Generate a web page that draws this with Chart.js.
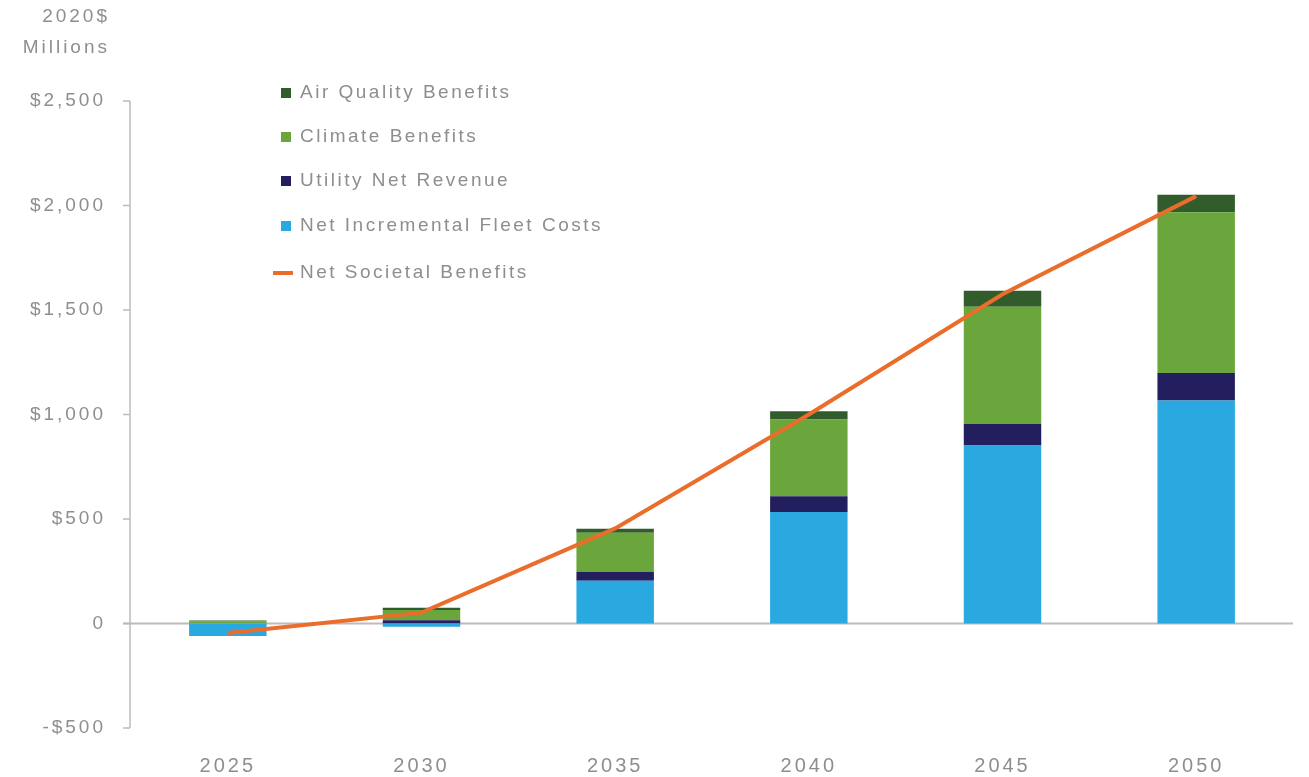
<!DOCTYPE html>
<html>
<head>
<meta charset="utf-8">
<script src="https://cdn.jsdelivr.net/npm/chart.js@4"></script>
<style>
  html, body { margin: 0; padding: 0; background: #ffffff; }
  #wrap { position: relative; width: 1309px; height: 777px; }
</style>
</head>
<body>
<div id="wrap"><canvas id="benefitsChart" width="1309" height="777"></canvas></div>
<script>
const years = ['2025', '2030', '2035', '2040', '2045', '2050'];
const fleetCosts = [-60, -15, 205, 534, 852, 1067];
const utilityRevenue = [0, 15, 43, 75, 102, 131];
const climateBenefits = [10, 50, 186, 367, 562, 770];
const airQualityBenefits = [4, 10, 19, 40, 76, 83];
const netSocietal = [-45, 52, 455, 1000, 1575, 2045];
const yTicks = [-500, 0, 500, 1000, 1500, 2000, 2500];

const textGrey = '#8e8e8e';
const axisGrey = '#bcbcbc';
const fontFamily = "'Liberation Sans', Arial, sans-serif";

// draws title, left axis and zero line
const axisPlugin = {
    id: 'axisPlugin',
    beforeLayout(chart) { chart.ctx.letterSpacing = '3px'; },
    beforeDatasetsDraw(chart) {
        const ctx = chart.ctx;
        const y = chart.scales.y;
        const area = chart.chartArea;
        const axisX = area.left - 1;
        ctx.save();
        ctx.strokeStyle = axisGrey;
        ctx.lineWidth = 2;
        ctx.beginPath();
        ctx.moveTo(axisX - 7, y.getPixelForValue(0));
        ctx.lineTo(area.right, y.getPixelForValue(0));
        ctx.stroke();
        ctx.lineWidth = 1.5;
        ctx.beginPath();
        ctx.moveTo(axisX, y.getPixelForValue(2500));
        ctx.lineTo(axisX, y.getPixelForValue(-500));
        yTicks.forEach(function(v) {
            const py = y.getPixelForValue(v);
            ctx.moveTo(axisX - 7, py);
            ctx.lineTo(axisX, py);
        });
        ctx.stroke();

        ctx.fillStyle = textGrey;
        ctx.font = '19px ' + fontFamily;
        ctx.letterSpacing = '3px';
        ctx.textAlign = 'right';
        ctx.textBaseline = 'middle';
        ctx.fillText('2020$', 110, 17);
        ctx.fillText('Millions', 110, 48);
        ctx.restore();
    }
};

// legend inside the plot
const legendPlugin = {
    id: 'innerLegend',
    afterDraw(chart) {
        const ctx = chart.ctx;
        const order = [3, 2, 1, 0, 4];
        const rows = [93, 137, 181, 226, 273];
        ctx.save();
        ctx.font = '19px ' + fontFamily;
        ctx.letterSpacing = '2.5px';
        ctx.textAlign = 'left';
        ctx.textBaseline = 'middle';
        order.forEach(function(idx, i) {
            const ds = chart.data.datasets[idx];
            const cy = rows[i];
            if (ds.type === 'line') {
                ctx.fillStyle = ds.borderColor;
                ctx.fillRect(273, cy - 2, 20, 4);
            } else {
                ctx.fillStyle = ds.backgroundColor;
                ctx.fillRect(281, cy - 5, 10, 10);
            }
            ctx.fillStyle = textGrey;
            ctx.fillText(ds.label, 300, cy);
        });
        ctx.restore();
    }
};

const ctx = document.getElementById('benefitsChart').getContext('2d');

const chart = new Chart(ctx, {
    type: 'bar',
    data: {
        labels: years,
        datasets: [
            { label: 'Net Incremental Fleet Costs', data: fleetCosts, backgroundColor: '#29a9e0', stack: 'bars', order: 1 },
            { label: 'Utility Net Revenue', data: utilityRevenue, backgroundColor: '#231f5e', stack: 'bars', order: 1 },
            { label: 'Climate Benefits', data: climateBenefits, backgroundColor: '#6aa63b', stack: 'bars', order: 1 },
            { label: 'Air Quality Benefits', data: airQualityBenefits, backgroundColor: '#335c2c', stack: 'bars', order: 1 },
            {
                type: 'line',
                label: 'Net Societal Benefits',
                data: netSocietal,
                borderColor: '#ea6d2b',
                backgroundColor: '#ea6d2b',
                borderWidth: 4,
                pointRadius: 0,
                tension: 0,
                stack: 'net',
                order: 0
            }
        ]
    },
    options: {
        responsive: false,
        animation: false,
        layout: { padding: { top: 101, right: 16, bottom: 0, left: 0 } },
        datasets: {
            bar: { categoryPercentage: 1, barPercentage: 0.4 }
        },
        scales: {
            x: {
                stacked: true,
                grid: { display: false, drawTicks: false },
                border: { display: false },
                ticks: {
                    color: textGrey,
                    font: { family: fontFamily, size: 20 },
                    padding: 26
                },
                afterFit: function(scale) { scale.height = 49; }
            },
            y: {
                stacked: true,
                min: -500,
                max: 2500,
                grid: { display: false, drawTicks: false },
                border: { display: false },
                afterBuildTicks: function(scale) {
                    scale.ticks = yTicks.map(function(v) { return { value: v }; });
                },
                ticks: {
                    color: textGrey,
                    font: { family: fontFamily, size: 19 },
                    padding: 25,
                    callback: function(v) {
                        if (v === 0) return '0';
                        const s = '$' + Math.abs(v).toLocaleString('en-US');
                        return v < 0 ? '-' + s : s;
                    }
                },
                afterFit: function(scale) { scale.width = 131; }
            }
        },
        plugins: {
            legend: { display: false },
            tooltip: { enabled: false }
        }
    },
    plugins: [axisPlugin, legendPlugin]
});
</script>
</body>
</html>
